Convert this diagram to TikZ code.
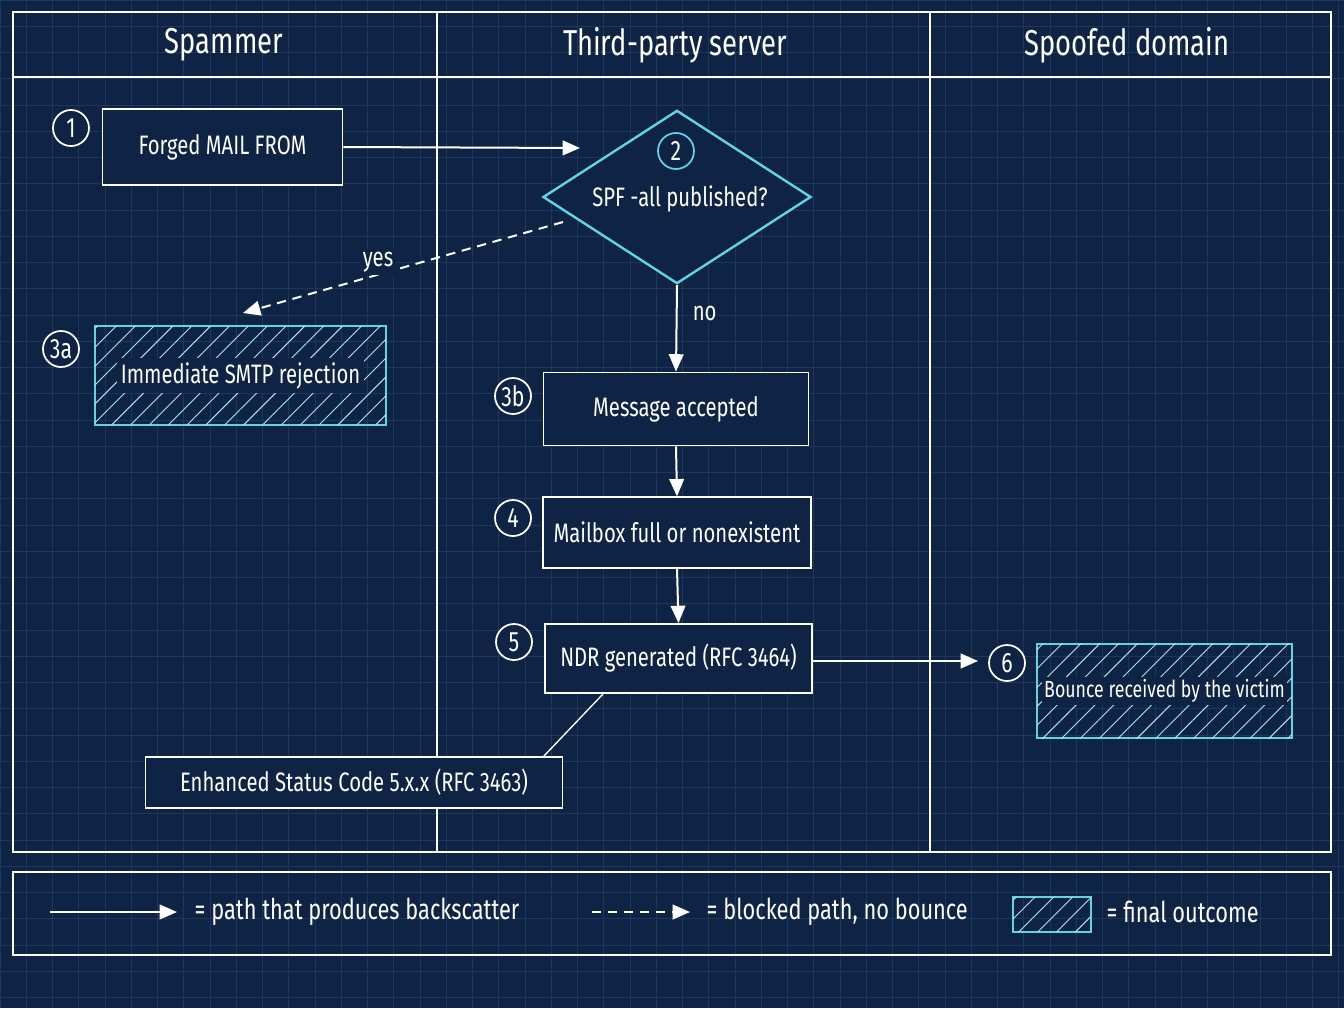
\documentclass[tikz,border=0pt]{standalone}
\usepackage{fontspec}
\setmainfont[FakeStretch=0.76]{Fira Sans}
\usetikzlibrary{arrows.meta,shapes.geometric,patterns.meta}
\definecolor{bg}{HTML}{0F2444}
\definecolor{gridc}{HTML}{1C385C}
\definecolor{cy}{HTML}{62D3E3}
\tikzset{
  box/.style={draw=white,line width=1.2pt,text=white,fill=bg,font=\fontsize{20}{22}\selectfont},
  outcome/.style={draw=cy,line width=1.6pt,
    postaction={pattern={Lines[angle=45,distance=10pt,line width=0.7pt]},pattern color=cy!55}},
  otext/.style={text=white,fill=bg,inner sep=3pt,font=\fontsize{20}{22}\selectfont},
  num/.style={circle,draw=white,line width=1.3pt,text=white,fill=bg,minimum size=27pt,inner sep=0pt,font=\fontsize{21}{22}\selectfont},
  flow/.style={draw=white,line width=1.5pt,-{Triangle[length=13pt,width=11pt]}},
  lbl/.style={text=white,font=\fontsize{20}{22}\selectfont},
  leg/.style={text=white,font=\fontsize{21.5}{24}\selectfont},
  hdr/.style={text=white,font=\fontsize{27}{30}\selectfont},
}
\begin{document}
\begin{tikzpicture}[x=0.75pt,y=-0.75pt]
\fill[bg] (0,0) rectangle (1344,1008);
\useasboundingbox (0,0) rectangle (1344,1008);
\foreach \i in {0,...,51} {\draw[gridc,line width=0.5pt] (\i*26.25,0) -- (\i*26.25,1008);}
\foreach \j in {0,...,38} {\draw[gridc,line width=0.5pt] (0,\j*26.25) -- (1344,\j*26.25);}
% lanes
\draw[white,line width=1pt] (13,12) rectangle (1331,852);
\draw[white,line width=1pt] (13,77) -- (1331,77) (437,12) -- (437,852) (930,12) -- (930,852);
\node[hdr] (h1) at (224,45) {Spammer};
\node[hdr] (h2) at (675,45) {Third-party server};
\node[hdr] (h3) at (1127,45) {Spoofed domain};
% nodes
\node[num] (n1) at (71,128) {1};
\node[box,minimum width=180pt,minimum height=57pt] (f) at (222.5,147) {Forged MAIL FROM};
\node[diamond,draw=cy,line width=1.8pt,fill=bg,minimum width=201pt,minimum height=130pt,inner sep=0pt] (d) at (677,197) {};
\node[num,draw=cy] (n2) at (676,151) {2};
\node[lbl] (dt) at (680,199) {SPF -all published?};
\coordinate (fend) at (580,148);
\draw[flow] (f.east) -- (fend);
\node[num] (n3a) at (61,349) {3a};
\node[outcome,minimum width=218pt,minimum height=74pt] (r) at (240.5,375.5) {};
\node[otext] (rt) at (r.center) {Immediate SMTP rejection};
\coordinate (ds) at (563,222);
\coordinate (de) at (243,313);
\draw[flow,dash pattern=on 7pt off 5pt] (ds) -- (de);
\node[lbl,fill=bg,inner sep=2pt] (yes) at (378,262) {yes};
\node[num] (n3b) at (513,396) {3b};
\node[box,minimum width=199pt,minimum height=55pt] (m) at (676,409) {Message accepted};
\draw[flow] (d.south) -- (m.north) node[lbl,pos=0.33,right=8pt] {no};
\node[num] (n4) at (513,518) {4};
\node[box,minimum width=201pt,minimum height=53pt] (mb) at (677,532.5) {Mailbox full or nonexistent};
\draw[flow] (m.south) -- (mb.north);
\node[num] (n5) at (514,642) {5};
\node[box,minimum width=200pt,minimum height=52pt] (ndr) at (678.5,658.5) {NDR generated (RFC 3464)};
\draw[flow] (mb.south) -- (ndr.north);
\node[num] (n6) at (1007,663) {6};
\node[outcome,minimum width=191pt,minimum height=71pt] (b) at (1164.5,691) {};
\node[otext,font=\fontsize{17.5}{20}\selectfont,inner sep=2pt] (bt) at (b.center) {Bounce received by the victim};
\coordinate (be) at (978,661);
\draw[flow] (ndr.east |- be) -- (be);
\coordinate (c1) at (603,694);
\coordinate (c2) at (543,757);
\draw[white,line width=1pt] (c1) -- (c2);
\node[box,minimum width=313pt,minimum height=38pt] (esc) at (354,782.5) {Enhanced Status Code 5.x.x (RFC 3463)};
% legend
\draw[white,line width=1pt] (13,872) rectangle (1331,955);
\coordinate (l1a) at (50,912); \coordinate (l1b) at (177,912);
\draw[flow] (l1a) -- (l1b);
\node[leg,anchor=west] (t1) at (190,912) {= path that produces backscatter};
\coordinate (l2a) at (592,912); \coordinate (l2b) at (690,912);
\draw[flow,dash pattern=on 7pt off 5pt] (l2a) -- (l2b);
\node[leg,anchor=west] (t2) at (702,912) {= blocked path, no bounce};
\node[outcome,minimum width=58pt,minimum height=26pt] (sw) at (1052,914.5) {};
\node[leg,anchor=west] (t3) at (1102,912) {= final outcome};
\end{tikzpicture}
\end{document}
